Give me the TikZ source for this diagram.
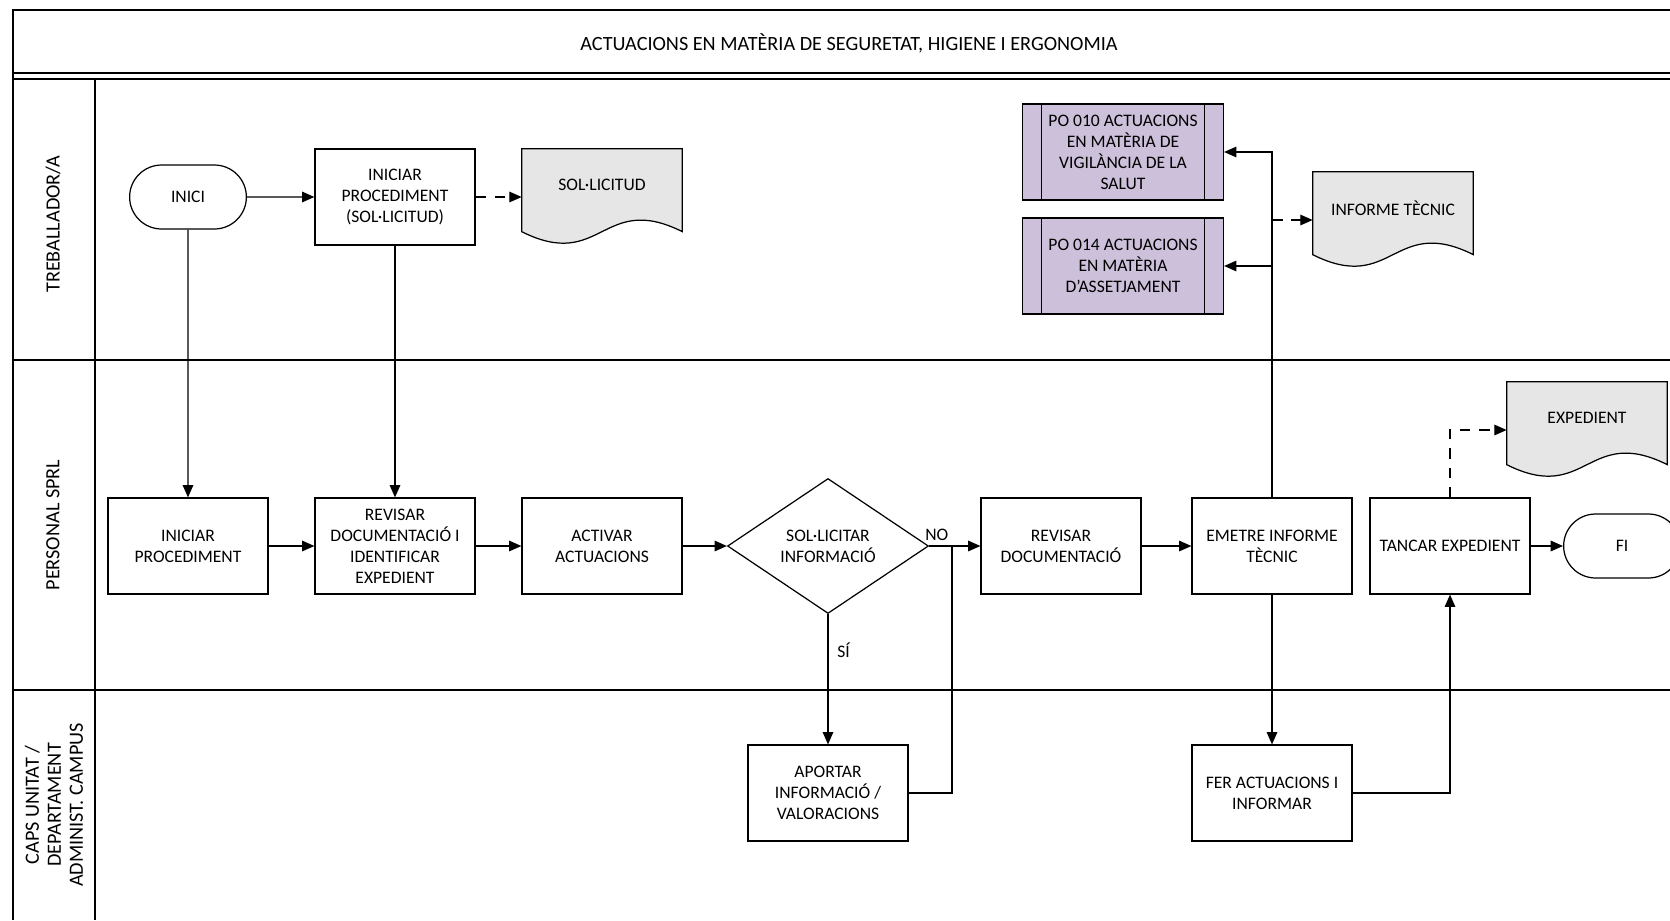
\documentclass[tikz,border=0pt]{standalone}
\usepackage{fontspec}
\setmainfont{Carlito}
\usetikzlibrary{arrows.meta,shapes.geometric,shapes.misc,calc,backgrounds}

\definecolor{docgris}{HTML}{E6E6E6}
\definecolor{malva}{HTML}{CCC0DA}

\tikzset{
  proces/.style={draw, line width=0.7pt, minimum width=3.2cm, minimum height=1.92cm, align=center, inner sep=2pt},
  terminal/.style={draw, rounded rectangle, line width=0.7pt, minimum width=2.57cm, minimum height=1.28cm},
  decisio/.style={draw, diamond, line width=0.7pt, minimum width=4.02cm, minimum height=2.56cm, align=center, inner sep=1pt},
  subproces/.style={proces, minimum width=4.02cm, fill=malva,
    path picture={
      \draw[line width=0.7pt] ([xshift=0.38cm]path picture bounding box.north west) -- ([xshift=0.38cm]path picture bounding box.south west);
      \draw[line width=0.7pt] ([xshift=-0.38cm]path picture bounding box.north east) -- ([xshift=-0.38cm]path picture bounding box.south east);
    }},
  docu/.style={minimum width=3.2cm, minimum height=1.92cm, text depth=14pt, align=center, inner sep=0pt},
  carrilnom/.style={rotate=90, align=center, font=\fontsize{11.5}{12.5}\selectfont},
  fletxa/.style={-{Triangle[length=7pt,width=6pt]}, line width=0.7pt},
  puntejat/.style={fletxa, dash pattern=on 6pt off 5pt},
  carril/.style={line width=1pt},
}

\begin{document}
\begin{tikzpicture}[x=0.02cm, y=-0.02cm, font=\fontsize{10}{12}\selectfont]
    \clip (0,0) rectangle (1670,920);

    % marc i títol
    \draw[carril] (13,920) -- (13,10) -- (1670,10);
    \draw[carril] (13,73) -- (1670,73);
    \draw[line width=0.8pt] (13,79) -- (1670,79);
    \node[font=\fontsize{11.5}{14}\selectfont] (titol) at (849,43) {ACTUACIONS EN MATÈRIA DE SEGURETAT, HIGIENE I ERGONOMIA};

    % carrils
    \draw[carril] (95,79) -- (95,920);
    \foreach \y in {360,690}
        \draw[carril] (13,\y) -- (1670,\y);

    % noms dels carrils
    \node[carrilnom] (c1) at (53,224) {TREBALLADOR/A};
    \node[carrilnom] (c2) at (53,525) {PERSONAL SPRL};
    \node[carrilnom] (c3) at (54,805) {CAPS UNITAT /\\DEPARTAMENT\\ADMINIST. CAMPUS};

    % carril 1
    \node[terminal] (inici) at (188,197) {INICI};
    \node[proces] (iniSol) at (395,197) {INICIAR\\PROCEDIMENT\\(SOL·LICITUD)};
    \node[docu] (solDoc) at (602,197) {SOL·LICITUD};
    \node[subproces] (po010) at (1123,152) {PO 010 ACTUACIONS\\EN MATÈRIA DE\\VIGILÀNCIA DE LA\\SALUT};
    \node[subproces] (po014) at (1123,266) {PO 014 ACTUACIONS\\EN MATÈRIA\\D’ASSETJAMENT};
    \node[docu] (infDoc) at (1393,220) {INFORME TÈCNIC};

    % carril 2
    \node[proces] (iniProc) at (188,546) {INICIAR\\PROCEDIMENT};
    \node[proces] (revisar) at (395,546) {REVISAR\\DOCUMENTACIÓ I\\IDENTIFICAR\\EXPEDIENT};
    \node[proces] (activar) at (602,546) {ACTIVAR\\ACTUACIONS};
    \node[decisio] (sollicitar) at (828,546) {SOL·LICITAR\\INFORMACIÓ};
    \node[proces] (revDoc) at (1061,546) {REVISAR\\DOCUMENTACIÓ};
    \node[proces] (emetre) at (1272,546) {EMETRE INFORME\\TÈCNIC};
    \node[proces] (tancar) at (1450,546) {TANCAR EXPEDIENT};
    \node[terminal] (fi) at (1622,546) {FI};
    \node[docu] (expDoc) at (1587,430) {EXPEDIENT};

    % carril 3
    \node[proces] (aportar) at (828,793) {APORTAR\\INFORMACIÓ /\\VALORACIONS};
    \node[proces] (ferAct) at (1272,793) {FER ACTUACIONS I\\INFORMAR};

    % documents (vora ondulada)
    \begin{scope}[on background layer]
        \foreach \d in {solDoc,infDoc,expDoc}
            \filldraw[fill=docgris, line width=0.7pt] (\d.north west) -- (\d.north east) -- ($(\d.north east)+(0,83)$)
                .. controls +(-80,-40) and +(80,40) .. ($(\d.north west)+(0,83)$) -- cycle;
    \end{scope}

    % fletxes
    \draw[fletxa] (inici) -- (iniSol);
    \draw[puntejat] (iniSol) -- (solDoc);
    \draw[fletxa] (inici) -- (iniProc);
    \draw[fletxa] (iniSol) -- (revisar);
    \draw[fletxa] (iniProc) -- (revisar);
    \draw[fletxa] (revisar) -- (activar);
    \draw[fletxa] (activar) -- (sollicitar);
    \draw[fletxa] (sollicitar) -- node[pos=0.15, above=3pt, inner sep=0pt] {NO} (revDoc);
    \draw[fletxa] (sollicitar) -- node[pos=0.28, right=5pt, inner sep=0pt] {SÍ} (aportar);
    \coordinate (unio) at (952,546);
    \draw[line width=0.7pt] (aportar.east) -| (unio);
    \draw[fletxa] (revDoc) -- (emetre);
    \draw[fletxa] (emetre.north) |- (po010.east);
    \coordinate (branca14) at (emetre.north |- po014.east);
    \draw[fletxa] (branca14) -- (po014.east);
    \coordinate (brancaInf) at (emetre.north |- infDoc.west);
    \draw[puntejat] (brancaInf) -- (infDoc.west);
    \draw[fletxa] (emetre) -- (ferAct);
    \draw[fletxa] (ferAct.east) -| (tancar.south);
    \draw[fletxa] (tancar) -- (fi);
    \draw[puntejat] (tancar.north) |- (expDoc.west);
\end{tikzpicture}
\end{document}
